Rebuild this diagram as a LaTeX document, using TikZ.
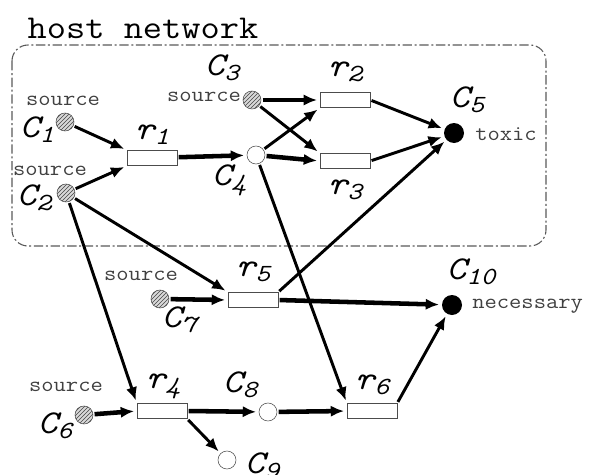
\documentclass[tikz,border=0pt]{standalone}
\usepackage{fontspec}
\setmonofont{Latin Modern Mono}[FakeStretch=1.12]
\usetikzlibrary{positioning, arrows.meta, patterns}
\newcommand{\spn}[2]{{\ttfamily\itshape\fontsize{25}{25}\selectfont #1\raisebox{-0.35ex}{\fontsize{18.5}{18.5}\selectfont #2}}}
\tikzset{
  src/.style={
      circle,
      draw=gray!60!black,
      preaction={fill=gray!30},
      pattern=north east lines,
      pattern color=gray!55!black,
      minimum size=13.5pt,
      inner sep=0pt
    },
  prd/.style={
      circle,
      draw=black!70,
      fill=white,
      minimum size=13.5pt,
      inner sep=0pt
    },
  tgt/.style={
      circle,
      fill=black,
      minimum size=15pt,
      inner sep=0pt
    },
  rxn/.style={
      rectangle,
      draw=black!70,
      fill=white,
      minimum width=37.5pt,
      minimum height=11.5pt,
      inner sep=0pt
    },
  lbl/.style={
      inner sep=0pt
    },
  tag/.style={
      font=\ttfamily\fontsize{16}{16}\selectfont,
      text=black!75,
      inner sep=0pt
    },
  arr/.style={
      -{Latex[length=10pt, width=8.5pt]},
      line width=2.2pt,
      shorten >=2pt,
      shorten <=1pt
    },
  arrb/.style={
      arr,
      line width=3.4pt
    }
}
\begin{document}
\begin{tikzpicture}[x=0.75pt, y=-0.75pt]
  \useasboundingbox (0,0) rectangle (590,475);
  % host network frame
  \node[font=\ttfamily\fontsize{25}{25}\selectfont, inner sep=0pt] (host) at (143,28) {host network};
  \draw[gray!70!black, line width=0.8pt, dash pattern=on 7pt off 2pt on 1.5pt off 2pt, rounded corners=12pt]
    (12,45) rectangle (546,246);
  % compounds
  \node[src] (c1) at (65,122) {};
  \node[src] (c2) at (66,193) {};
  \node[src] (c3) at (252,100) {};
  \node[prd] (c4) at (256,155) {};
  \node[tgt] (c5) at (454,133) {};
  \node[src] (c6) at (84,415) {};
  \node[src] (c7) at (160,299) {};
  \node[prd] (c8) at (268,412) {};
  \node[prd] (c9) at (227,460) {};
  \node[tgt] (c10) at (452,305) {};
  % reactions
  \node[rxn] (r1) at (152,158) {};
  \node[rxn] (r2) at (345,100) {};
  \node[rxn] (r3) at (345,161) {};
  \node[rxn] (r4) at (162,411) {};
  \node[rxn] (r5) at (253,300) {};
  \node[rxn] (r6) at (372,411) {};
  % names
  \node[lbl] (c1l) at (37,130) {\spn{C}{1}};
  \node[lbl] (c2l) at (34,198) {\spn{C}{2}};
  \node[lbl] (c3l) at (222,68) {\spn{C}{3}};
  \node[lbl] (c4l) at (229,180) {\spn{C}{4}};
  \node[lbl] (c5l) at (467,100) {\spn{C}{5}};
  \node[lbl] (c6l) at (55,426) {\spn{C}{6}};
  \node[lbl] (c7l) at (179,320) {\spn{C}{7}};
  \node[lbl] (c8l) at (240,385) {\spn{C}{8}};
  \node[lbl] (c9l) at (262,466) {\spn{C}{9}};
  \node[lbl] (c10l) at (471,272) {\spn{C}{10}};
  \node[lbl] (r1l) at (152,135) {\spn{r}{1}};
  \node[lbl] (r2l) at (345,72) {\spn{r}{2}};
  \node[lbl] (r3l) at (345,190) {\spn{r}{3}};
  \node[lbl] (r4l) at (163,386) {\spn{r}{4}};
  \node[lbl] (r5l) at (253,272) {\spn{r}{5}};
  \node[lbl] (r6l) at (372,385) {\spn{r}{6}};
  % tags
  \node[tag] (s1) at (63,101) {source};
  \node[tag] (s2) at (50,171) {source};
  \node[tag] (s3) at (204,97) {source};
  \node[tag] (s6) at (66,387) {source};
  \node[tag] (s7) at (141,276) {source};
  \node[tag, anchor=west] (tox) at (475,134) {toxic};
  \node[tag, anchor=west] (nec) at (472,306) {necessary};
  % arrows
  \draw[arr] (c1) -- (r1.north west);
  \draw[arr] (c2) -- (r1.south west);
  \draw[arrb] (r1) -- (c4);
  \draw[arrb] (c3) -- (r2.west);
  \draw[arr] (c3) -- (r3.north west);
  \draw[arr] (c4) -- (r2.south west);
  \draw[arrb] (c4) -- (r3.west);
  \draw[arr] (r2.east) -- (c5);
  \draw[arr] (r3.east) -- (c5);
  \draw[arr] (c2) -- (r5.north west);
  \draw[arr] (c2) -- (r4.north west);
  \draw[arr] (c4) -- (r6.north west);
  \draw[arrb] (c7) -- (r5.west);
  \draw[arr] (r5.north east) -- (c5);
  \draw[arrb] (r5.east) -- (c10);
  \draw[arrb] (c6) -- (r4.west);
  \draw[arrb] (r4.east) -- (c8);
  \draw[arr] (r4.south east) -- (c9);
  \draw[arrb] (c8) -- (r6.west);
  \draw[arr] (r6.north east) -- (c10);
\end{tikzpicture}
\end{document}
